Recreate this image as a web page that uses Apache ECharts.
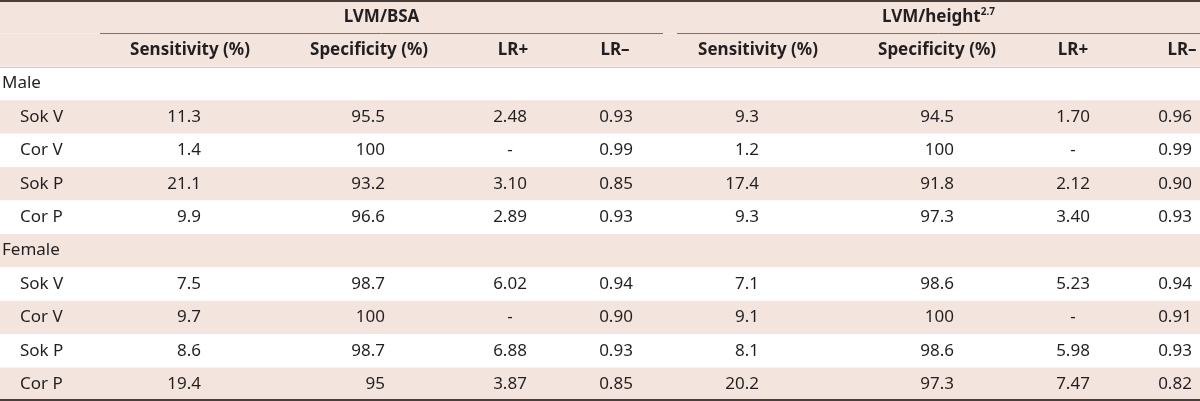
<!DOCTYPE html>
<html><head><meta charset="utf-8">
<script src="https://cdn.jsdelivr.net/npm/echarts@6/dist/echarts.min.js"></script>
<style>html,body{margin:0;padding:0;background:#fff}#c{width:1200px;height:401px}</style>
</head><body><div id="c"></div>
<script>
// ---- data ----
const groups = ['Male', 'Female'];
const markers = ['Sok V', 'Cor V', 'Sok P', 'Cor P'];
const colHeaders = ['Sensitivity (%)', 'Specificity (%)', 'LR+', 'LR–'];
const groupHeaders = ['LVM/BSA', 'LVM/height{sup|2.7}'];
// LVM/BSA
const bsaSensMale = ['11.3', '1.4', '21.1', '9.9'];
const bsaSpecMale = ['95.5', '100', '93.2', '96.6'];
const bsaLRpMale = ['2.48', '-', '3.10', '2.89'];
const bsaLRmMale = ['0.93', '0.99', '0.85', '0.93'];
const bsaSensFemale = ['7.5', '9.7', '8.6', '19.4'];
const bsaSpecFemale = ['98.7', '100', '98.7', '95'];
const bsaLRpFemale = ['6.02', '-', '6.88', '3.87'];
const bsaLRmFemale = ['0.94', '0.90', '0.93', '0.85'];
// LVM/height^2.7
const htSensMale = ['9.3', '1.2', '17.4', '9.3'];
const htSpecMale = ['94.5', '100', '91.8', '97.3'];
const htLRpMale = ['1.70', '-', '2.12', '3.40'];
const htLRmMale = ['0.96', '0.99', '0.90', '0.93'];
const htSensFemale = ['7.1', '9.1', '8.1', '20.2'];
const htSpecFemale = ['98.6', '100', '98.6', '97.3'];
const htLRpFemale = ['5.23', '-', '5.98', '7.47'];
const htLRmFemale = ['0.94', '0.91', '0.93', '0.82'];

// ---- layout (positions / styles) ----
const W = 1200;
const PINK = '#f4e4de';
const TXT = '#231f20';
const FONT = '"Noto Sans", sans-serif';
const FS = 17;
// value column anchors: [x, align]
const valueCols = [[201,'right'],[385,'right'],[510,'center'],[616,'center'],
                   [759,'right'],[954,'right'],[1073,'center'],[1175,'center']];
const headerCols = [190, 369, 513, 615, 758, 937, 1073, 1182];
const groupSpans = [[100, 663], [677, 1200]];

// ---- build rows ----
const dataByGroup = {
  Male: [bsaSensMale, bsaSpecMale, bsaLRpMale, bsaLRmMale, htSensMale, htSpecMale, htLRpMale, htLRmMale],
  Female: [bsaSensFemale, bsaSpecFemale, bsaLRpFemale, bsaLRmFemale, htSensFemale, htSpecFemale, htLRpFemale, htLRmFemale]
};
const texts = []; // [x, yRow, text, align, bold]
const bgRows = []; // [row, pink?]
let row = 0;
bgRows.push([0, 1]); bgRows.push([1, 1]);
groupHeaders.forEach((g, i) => texts.push([(groupSpans[i][0] + groupSpans[i][1]) / 2, 0.5, g, 'center', 1]));
for (let h = 0; h < 2; h++) colHeaders.forEach((c, i) => texts.push([headerCols[h * 4 + i], 1.5, c, 'center', 1]));
row = 2;
groups.forEach(g => {
  bgRows.push([row, row % 2 ? 1 : 0]);
  texts.push([2, row + 0.5, g, 'left', 0]);
  row++;
  markers.forEach((m, mi) => {
    bgRows.push([row, row % 2 ? 1 : 0]);
    texts.push([20, row + 0.5, m, 'left', 0]);
    dataByGroup[g].forEach((arr, ci) => texts.push([valueCols[ci][0], row + 0.5, arr[mi], valueCols[ci][1], 0]));
    row++;
  });
});
const nRows = row;

const chart = echarts.init(document.getElementById('c'), null, {renderer: 'canvas'});
chart.setOption({
  animation: false,
  grid: {left: 0, right: 0, top: 0, bottom: 0},
  xAxis: {type: 'value', min: 0, max: W, show: false},
  yAxis: {type: 'value', min: 0, max: nRows, inverse: true, show: false},
  series: [
    {
      type: 'custom', data: bgRows, silent: true,
      renderItem: (p, api) => {
        const a = api.coord([0, api.value(0)]), b = api.coord([W, api.value(0) + 1]);
        return {type: 'rect', shape: {x: a[0], y: a[1], width: b[0] - a[0], height: b[1] - a[1]},
                style: {fill: api.value(1) ? PINK : '#ffffff'}};
      }
    },
    {
      type: 'custom', silent: true,
      data: [[0, W, 0, 0], [0, W, nRows, 0], [groupSpans[0][0], groupSpans[0][1], 1, 1], [groupSpans[1][0], groupSpans[1][1], 1, 1], [0, W, 2, 2]],
      renderItem: (p, api) => {
        const a = api.coord([api.value(0), api.value(2)]), b = api.coord([api.value(1), api.value(2)]);
        const kind = api.value(3);
        const st = kind === 0 ? {stroke: '#4a3e3a', lineWidth: 2} : kind === 1 ? {stroke: '#7d716d', lineWidth: 1} : {stroke: '#d6c6c0', lineWidth: 1};
        let y = kind === 0 ? Math.min(Math.max(a[1], 1), 400) : Math.round(a[1]) + 0.5;
        return {type: 'line', shape: {x1: a[0], y1: y, x2: b[0], y2: y}, style: st};
      }
    },
    {
      type: 'custom', silent: true, data: texts,
      dimensions: ['x', 'y', 't', 'a', 'b'],
      renderItem: (p, api) => {
        const d = texts[p.dataIndex];
        const c = api.coord([d[0], d[1]]);
        return {type: 'text', x: c[0], y: c[1],
          style: {text: d[2], textAlign: d[3], textVerticalAlign: 'middle', fill: TXT,
            font: (d[4] ? 'bold ' : '') + FS + 'px ' + FONT,
            rich: {sup: {fontSize: 10, fontWeight: 'bold', verticalAlign: 'top', padding: [0, 0, 9, 0], fill: TXT, fontFamily: FONT}}}};
      }
    }
  ]
});
</script></body></html>
